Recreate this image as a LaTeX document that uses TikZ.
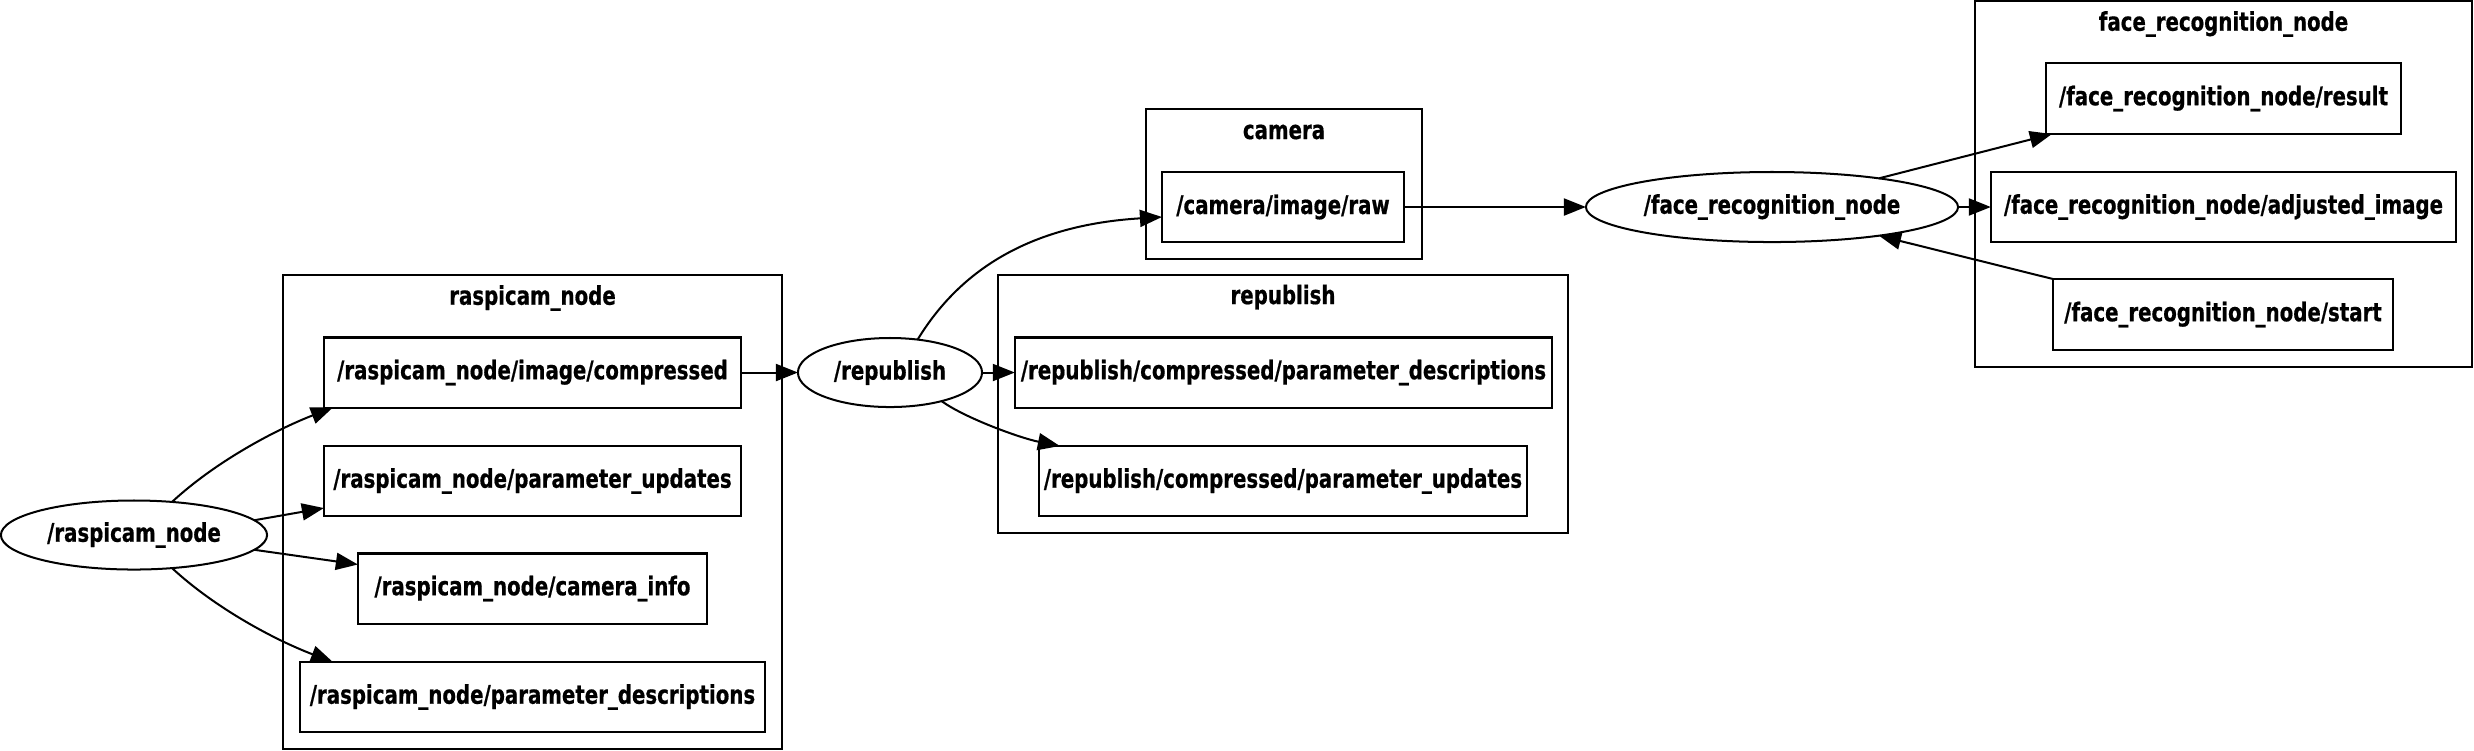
\documentclass[tikz,border=0pt]{standalone}
\usepackage{fontspec}
\setmainfont{DejaVu Sans}[FakeStretch=0.77,BoldFeatures={FakeBold=0.6}]
\usetikzlibrary{shapes.geometric,arrows.meta,calc}
\begin{document}
\begin{tikzpicture}[x=0.01cm,y=-0.01cm,
  every node/.style={font=\fontsize{7.3pt}{8.8pt}\selectfont\bfseries, inner sep=0pt, outer sep=0pt, line width=0.57pt},
  topic/.style={draw, rectangle, minimum height=0.70cm},
  nodeell/.style={draw, ellipse, minimum height=0.69cm},
  cluster/.style={draw, rectangle},
  clabel/.style={},
  edge/.style={line width=0.57pt, -{Triangle[length=0.22cm,width=0.17cm]}}
]
\useasboundingbox (0,0) rectangle (2474,750);
% clusters
\node[cluster, minimum width=4.99cm, minimum height=4.74cm] (c1) at (532.5,512) {};
\node[clabel] (c1l) at (532.5,298) {raspicam\_node};
\node[cluster, minimum width=2.76cm, minimum height=1.50cm] (c2) at (1284,184) {};
\node[clabel] (c2l) at (1284,132) {camera};
\node[cluster, minimum width=5.70cm, minimum height=2.58cm] (c3) at (1283,404) {};
\node[clabel] (c3l) at (1283,297) {republish};
\node[cluster, minimum width=4.97cm, minimum height=3.66cm] (c4) at (2223.5,184) {};
\node[clabel] (c4l) at (2223.5,24) {face\_recognition\_node};
% topics
\node[topic, minimum width=4.17cm] (ric) at (532.5,372.5) {/raspicam\_node/image/compressed};
\node[topic, minimum width=4.17cm] (rpu) at (532.5,481) {/raspicam\_node/parameter\_updates};
\node[topic, minimum width=3.49cm] (rci) at (532.5,588.5) {/raspicam\_node/camera\_info};
\node[topic, minimum width=4.65cm] (rpd) at (532.5,697) {/raspicam\_node/parameter\_descriptions};
\node[topic, minimum width=2.42cm] (cr) at (1283,207) {/camera/image/raw};
\node[topic, minimum width=5.37cm] (rdesc) at (1283.5,372.5) {/republish/compressed/parameter\_descriptions};
\node[topic, minimum width=4.88cm] (rupd) at (1283,481) {/republish/compressed/parameter\_updates};
\node[topic, minimum width=3.55cm, minimum height=0.71cm] (res) at (2223.5,98.5) {/face\_recognition\_node/result};
\node[topic, minimum width=4.65cm] (adj) at (2223.5,207) {/face\_recognition\_node/adjusted\_image};
\node[topic, minimum width=3.40cm, minimum height=0.71cm] (rst) at (2223,314.5) {/face\_recognition\_node/start};
% nodes
\node[nodeell, minimum width=2.66cm] (rn) at (134,535) {/raspicam\_node};
\node[nodeell, minimum width=1.84cm] (rep) at (890,372.5) {/republish};
\node[nodeell, minimum width=3.72cm, minimum height=0.70cm] (fr) at (1772,207) {/face\_recognition\_node};
% edges
\draw[edge] (rn.41) .. controls (215,462) and (275,430) .. ($(ric.south west)+(9,0)$);
\draw[edge] (rn.7) -- ($(rpu.south west)+(0,-8)$);
\draw[edge] (rn.-7) -- ($(rci.north west)+(0,11)$);
\draw[edge] (rn.-41) .. controls (215,608) and (275,640) .. ($(rpd.north west)+(33,0)$);
\draw[edge] (ric.east) -- (rep.west);
\draw[edge] (rep.50) .. controls (960,270) and (1030,225) .. ($(cr.west)+(0,10)$);
\draw[edge] (rep.east) -- (rdesc.west);
\draw[edge] (rep.-29) .. controls (965,418) and (1020,438) .. ($(rupd.north west)+(21,0)$);
\draw[edge] (cr.east) -- (fr.west);
\draw[edge] (fr.15) -- ($(res.south west)+(6,0)$);
\draw[edge] (fr.east) -- (adj.west);
\draw[edge] (rst.north west) -- (fr.-15);
\end{tikzpicture}
\end{document}
